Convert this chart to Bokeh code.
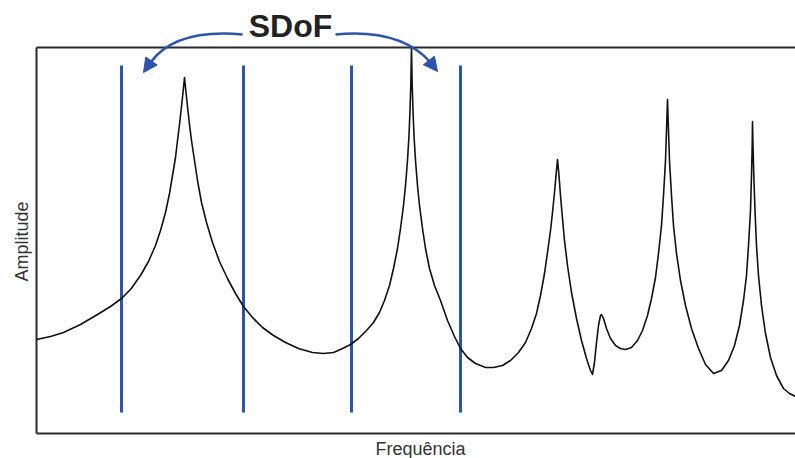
from bokeh.plotting import figure
from bokeh.models import Range1d, Label, Arrow, NormalHead
from bokeh.embed import file_html
from bokeh.resources import INLINE
import math

# ---- data (arbitrary units: frequency 0..759, amplitude 0..386) ----
freq = [0, 14, 27, 44, 61, 74, 85, 94, 104, 112, 119, 124, 129, 133, 136, 139, 141, 143, 145,
        146.5, 148, 149.5, 151, 153, 155, 158, 161, 165, 170, 176, 183, 191, 199, 207, 216,
        226, 237, 249, 262, 276, 287, 297, 306, 314, 322, 330, 337, 343, 348, 353, 357, 361,
        364, 367, 369, 371, 372.5, 373.5, 374.3, 375, 375.7, 376.5, 377.5, 379, 381, 383,
        386, 389, 393, 398, 404, 411, 418, 424, 431, 439, 449, 457, 466, 474, 482, 489, 495,
        500, 504, 508, 511, 514, 516, 518, 519.5, 521, 522.5, 524, 526, 528, 531, 535, 540,
        545, 550, 554, 556, 558, 560, 562, 564, 565, 567, 570, 574, 579, 584, 589, 595, 601,
        606, 611, 615, 619, 622, 625, 627, 629, 630, 631, 632, 633, 635, 637, 640, 644, 649,
        655, 662, 669, 677, 685, 692, 698, 703, 707, 710, 712, 714, 715, 715.7, 716, 716.5,
        717.3, 718.5, 720, 722, 725, 729, 734, 740, 747, 753, 759]
amplitude = [94, 97, 101, 109, 119, 127, 135, 144, 158, 172, 188, 203, 221, 240, 258, 276, 293,
             309, 327, 341, 356, 341, 327, 309, 293, 273, 253, 231, 211, 191, 172, 155, 140,
             127, 116, 106, 98, 91, 85, 81, 80, 81, 85, 89, 95, 103, 111, 121, 133, 148, 165,
             185, 205, 228, 248, 273, 298, 323, 348, 386, 348, 323, 298, 273, 248, 228, 205,
             185, 165, 148, 133, 113, 97, 85, 76, 70, 66, 66, 68, 73, 81, 91, 105, 120, 138,
             160, 181, 203, 221, 241, 258, 274, 258, 238, 215, 193, 168, 141, 115, 93, 75, 63,
             59, 71, 91, 108, 118, 119, 115, 105, 95, 88, 85, 84, 86, 93, 103, 118, 135, 156,
             180, 208, 238, 273, 303, 334, 303, 273, 238, 208, 180, 153, 128, 105, 85, 69, 60,
             63, 73, 88, 108, 133, 158, 188, 223, 258, 288, 312, 288, 258, 223, 188, 158, 128,
             100, 76, 58, 45, 40, 37]

# SDoF band limits (blue markers)
band_freq = [85, 207, 315, 424]
band_low = 21
band_high = 368
frame_top = 386

x_label = "Frequência"
y_label = "Amplitude"
annot_text = "SDoF"

BLUE = "#2c53ad"
INK = "#222222"

p = figure(width=795, height=458, output_backend="svg", toolbar_location=None,
           x_range=Range1d(-36, 759), y_range=Range1d(-25, 433),
           x_axis_location=None, y_axis_location=None,
           min_border=0, min_border_left=0, min_border_right=0,
           min_border_top=0, min_border_bottom=0)
p.outline_line_color = None
p.grid.visible = False
p.background_fill_color = "white"
p.border_fill_color = "white"

# frame (left, top, bottom; open on the right)
p.segment(x0=[0, 0, 0], y0=[0, frame_top, 0], x1=[0, 770, 770], y1=[frame_top, frame_top, 0],
          line_color="#2a2a2a", line_width=2)

# blue band lines
p.segment(x0=band_freq, y0=[band_low] * len(band_freq), x1=band_freq,
          y1=[band_high] * len(band_freq), line_color=BLUE, line_width=3)

# FRF curve
p.line(freq, amplitude, line_color="#111111", line_width=1.6, line_join="round")

# curved arrows from the label
left_arrow = dict(x0=206, y0=399, cx=139, cy=405, x1=114, y1=371, tx=107, ty=361)
right_arrow = dict(x0=299, y0=399, cx=364, cy=405, x1=394, y1=371, tx=401, ty=362)
for a in (left_arrow, right_arrow):
    p.quadratic(x0=[a["x0"]], y0=[a["y0"]], x1=[a["x1"]], y1=[a["y1"]],
                cx=[a["cx"]], cy=[a["cy"]], line_color=BLUE, line_width=2.5)
    p.add_layout(Arrow(end=NormalHead(size=14, fill_color=BLUE, line_color=BLUE),
                       x_start=a["x1"], y_start=a["y1"], x_end=a["tx"], y_end=a["ty"],
                       line_color=BLUE, line_width=2.5))

p.add_layout(Label(x=254, y=408, text=annot_text, text_align="center",
                   text_baseline="middle", text_font="Liberation Sans",
                   text_font_style="bold", text_font_size="32px", text_color=INK))
p.add_layout(Label(x=384, y=-15, text=x_label, text_align="center",
                   text_baseline="alphabetic", text_font="Liberation Sans",
                   text_font_size="18px", text_color="#333333"))
p.add_layout(Label(x=-15, y=192, text=y_label, text_align="center",
                   text_baseline="middle", angle=math.pi / 2, text_font="Liberation Sans",
                   text_font_size="18px", text_color="#333333"))

open("out.html", "w").write(file_html(p, INLINE))
